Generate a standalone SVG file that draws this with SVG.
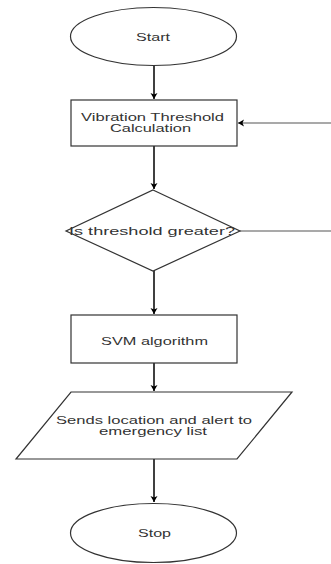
<svg xmlns="http://www.w3.org/2000/svg" width="331" height="564" viewBox="0 0 331 564">
<style>
.shape{fill:#fff;stroke:#333;stroke-width:1.2}
.lbl{font-family:"Liberation Sans",Arial,sans-serif;font-size:10.5px;fill:#333;text-anchor:middle}
.flow{stroke:#000;stroke-width:1.5;fill:none}
.back{stroke:#555;stroke-width:1.2;fill:none}
</style>
<defs>
<marker id="ah" markerWidth="8" markerHeight="8" refX="6" refY="4" orient="auto" markerUnits="userSpaceOnUse">
<path d="M0,0.5 L6,4 L0,7.5 L1.5,4 Z" fill="#000"/>
</marker>
</defs>
<rect width="331" height="564" fill="#fff"/>
<g id="connectors">
<line class="flow" x1="154" y1="65" x2="154" y2="99" marker-end="url(#ah)"/>
<line class="flow" x1="154" y1="146" x2="154" y2="189" marker-end="url(#ah)"/>
<line class="flow" x1="154" y1="271" x2="154" y2="314" marker-end="url(#ah)"/>
<line class="flow" x1="154" y1="363" x2="154" y2="391" marker-end="url(#ah)"/>
<line class="flow" x1="154" y1="459" x2="154" y2="502" marker-end="url(#ah)"/>
<line class="back" x1="331" y1="123" x2="238" y2="123" marker-end="url(#ah)"/>
<line class="back" x1="240" y1="231" x2="331" y2="231"/>
</g>
<g id="start">
<ellipse class="shape" cx="153.5" cy="36.5" rx="83" ry="29"/>
<text class="lbl" x="153" y="41" textLength="34" lengthAdjust="spacingAndGlyphs">Start</text>
</g>
<g id="calc">
<rect class="shape" x="71" y="100" width="166" height="46"/>
<text class="lbl" x="152.5" y="121" textLength="143" lengthAdjust="spacingAndGlyphs">Vibration Threshold</text>
<text class="lbl" x="150.5" y="132" textLength="81" lengthAdjust="spacingAndGlyphs">Calculation</text>
</g>
<g id="decision">
<polygon class="shape" points="153,190 240,231 153,271 66,231"/>
<text class="lbl" x="152" y="235" textLength="166" lengthAdjust="spacingAndGlyphs">Is threshold greater?</text>
</g>
<g id="svm">
<rect class="shape" x="71" y="315" width="166" height="48"/>
<text class="lbl" x="154.5" y="345" textLength="107" lengthAdjust="spacingAndGlyphs">SVM algorithm</text>
</g>
<g id="sends">
<polygon class="shape" points="71,392 292,392 237,459 16,459"/>
<text class="lbl" x="154" y="424" textLength="196" lengthAdjust="spacingAndGlyphs">Sends location and alert to</text>
<text class="lbl" x="153" y="435" textLength="108" lengthAdjust="spacingAndGlyphs">emergency list</text>
</g>
<g id="stop">
<ellipse class="shape" cx="153.5" cy="533" rx="83" ry="29.5"/>
<text class="lbl" x="154.5" y="537" textLength="33" lengthAdjust="spacingAndGlyphs">Stop</text>
</g>
</svg>
